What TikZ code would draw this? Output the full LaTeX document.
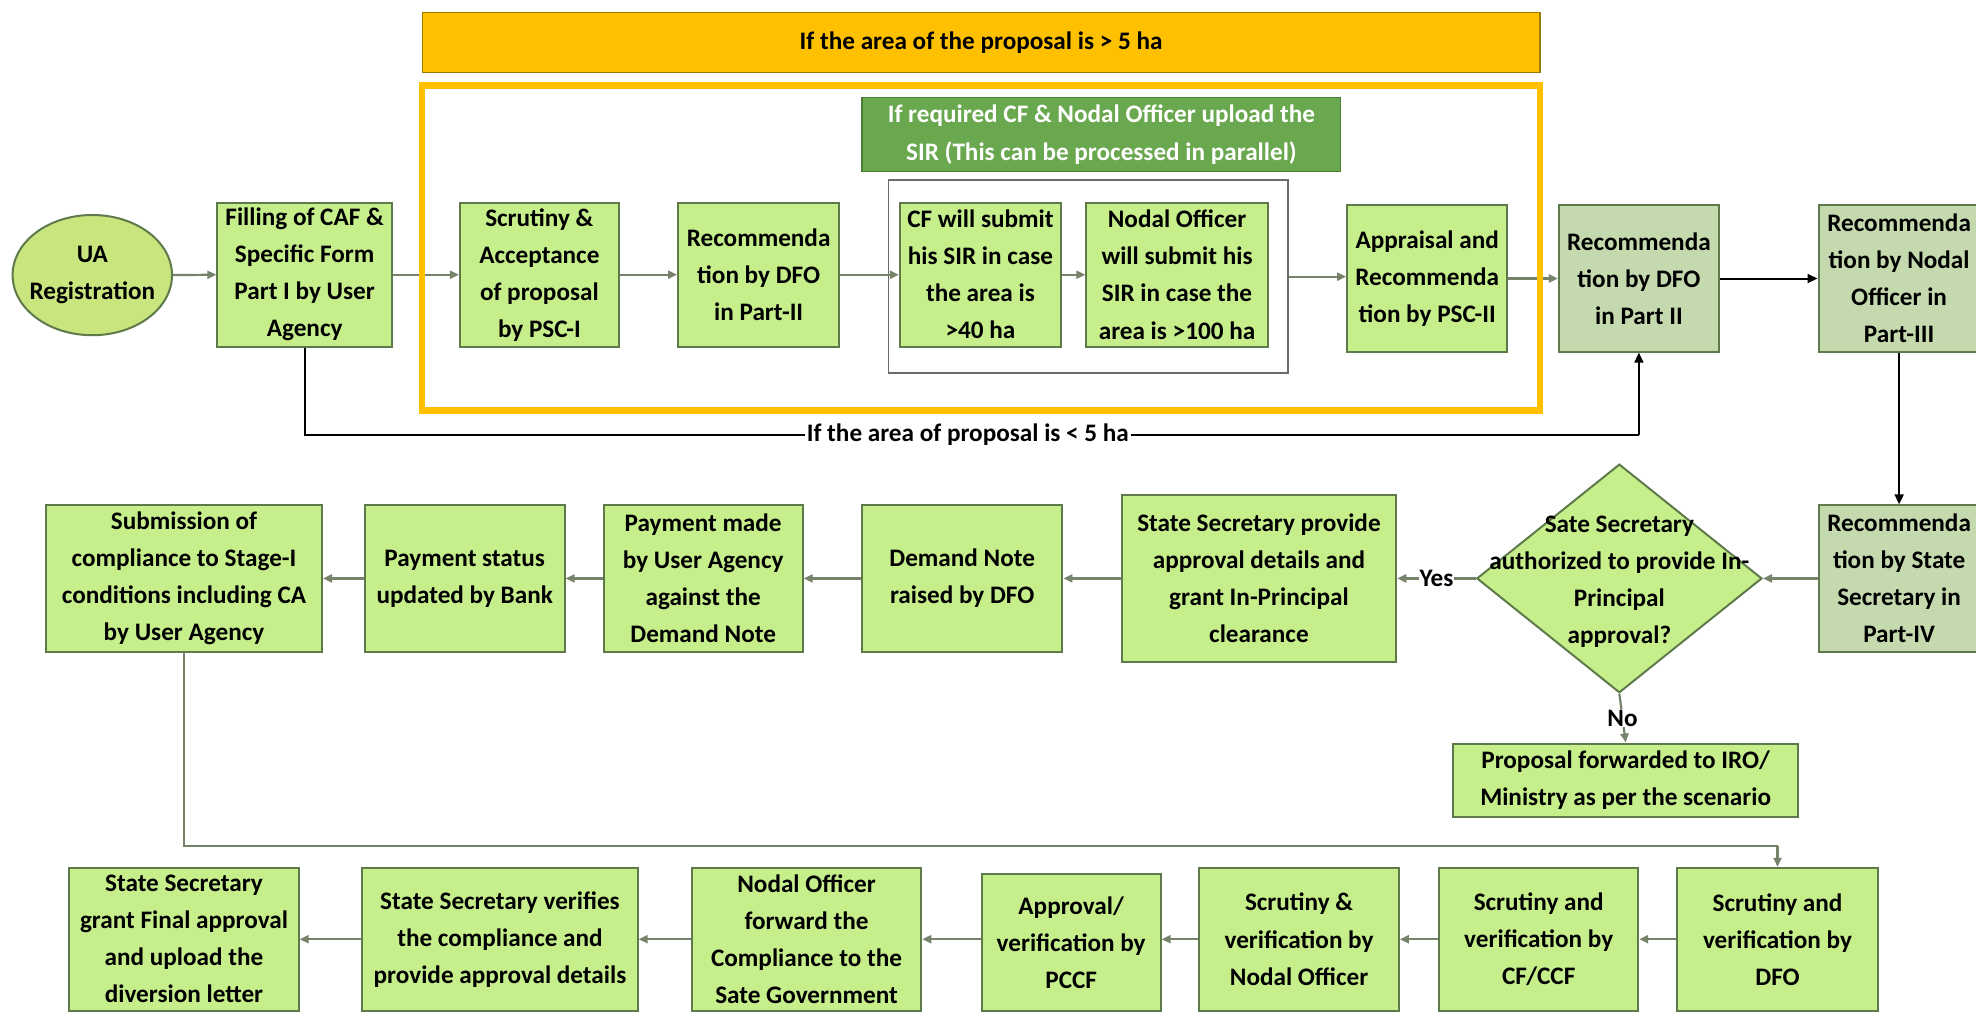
\documentclass[tikz,border=0pt]{standalone}
\usepackage{fontspec}
\setmainfont{Carlito}
\usetikzlibrary{shapes.geometric,arrows.meta}
\definecolor{lgreen}{HTML}{C6EF8C}
\definecolor{dgreenfill}{HTML}{C5D9AF}
\definecolor{bordr}{HTML}{5F7A4A}
\definecolor{ellfill}{HTML}{C9E57D}
\definecolor{orng}{HTML}{FFC000}
\definecolor{orngdark}{HTML}{9C7A00}
\definecolor{sirgreen}{HTML}{6AA84F}
\definecolor{sirborder}{HTML}{4E7D38}
\definecolor{conn}{HTML}{76836B}
\definecolor{framegrey}{HTML}{6B6B6B}
\begin{document}
\begin{tikzpicture}[x=0.63pt,y=-0.63pt,
  txt/.style={font=\fontsize{12.6}{18.5}\selectfont\bfseries, align=center, text=black},
  box/.style={txt, draw=bordr, fill=lgreen, line width=1pt, inner sep=0pt},
  dbox/.style={box, fill=dgreenfill},
  garrow/.style={draw=conn, line width=1.1pt, -{Triangle[length=4.5pt,width=4pt]}},
  barrow/.style={draw=black, line width=1pt, -{Triangle[length=5pt,width=4.5pt]}},
  bline/.style={draw=black, line width=1pt},
  lbl/.style={txt, fill=white, inner sep=1pt},
]
\useasboundingbox (0,0) rectangle (1568,804);
\fill[white] (0,0) rectangle (1568,804);

% banner
\node[txt, draw=orngdark, fill=orng, line width=0.6pt, minimum width=558.8pt, minimum height=30pt, inner sep=0pt] (banner) at (778.5,33.85) {If the area of the proposal is > 5 ha};

% SIR box and grey frame
\node[txt, text=white, draw=sirborder, fill=sirgreen, line width=0.6pt, minimum width=239.4pt, minimum height=36.9pt, inner sep=0pt, font=\fontsize{12.6}{19}\selectfont\bfseries] (sir) at (874,106.75) {If required CF \& Nodal Officer upload the\\SIR (This can be processed in parallel)};
\node[draw=framegrey, line width=0.9pt, minimum width=199.7pt, minimum height=96.4pt, inner sep=0pt] (grp) at (863.5,219.5) {};

% top row
\node[ellipse, draw=bordr, fill=ellfill, line width=1pt, minimum width=79.7pt, minimum height=60.1pt, inner sep=0pt,
  label={[txt]center:{UA\\Registration}}] (ua) at (73.25,218.3) {};
\node[box, minimum width=87.3pt, minimum height=71.8pt] (caf) at (241.75,218) {Filling of CAF \&\\Specific Form\\Part I by User\\Agency};
\node[box, minimum width=79.4pt, minimum height=71.8pt] (psc1) at (428,218) {Scrutiny \&\\Acceptance\\of proposal\\by PSC-I};
\node[box, minimum width=80.6pt, minimum height=71.8pt] (dfo2) at (602,218) {Recommenda\\tion by DFO\\in Part-II};
\node[box, minimum width=80.6pt, minimum height=71.8pt] (cf) at (778,218) {CF will submit\\his SIR in case\\the area is\\>40 ha};
\node[box, minimum width=90.7pt, minimum height=71.8pt] (nosir) at (934,218) {Nodal Officer\\will submit his\\SIR in case the\\area is >100 ha};
\node[box, minimum width=80pt, minimum height=73.1pt] (psc2) at (1132.5,221) {Appraisal and\\Recommenda\\tion by PSC-II};
\node[dbox, minimum width=80pt, minimum height=73.1pt] (dfoII) at (1300.5,221) {Recommenda\\tion by DFO\\in Part II};
\node[dbox, minimum width=80.6pt, minimum height=73.1pt] (nodal3) at (1507,221) {Recommenda\\tion by Nodal\\Officer in\\Part-III};

% middle row
\node[dbox, minimum width=80.6pt, minimum height=73.1pt] (state4) at (1507,459) {Recommenda\\tion by State\\Secretary in\\Part-IV};
\node[diamond, draw=bordr, fill=lgreen, line width=1pt, minimum width=142.6pt, minimum height=114.3pt, inner sep=0pt,
  label={[txt, yshift=-1.5pt]center:{Sate Secretary\\authorized to provide In-\\Principal\\approval?}}] (dia) at (1285,459) {};
\node[box, minimum width=137.3pt, minimum height=83.2pt] (ssprov) at (999,459) {State Secretary provide\\approval details and\\grant In-Principal\\clearance};
\node[box, minimum width=100.2pt, minimum height=73.1pt] (demand) at (763.5,459) {Demand Note\\raised by DFO};
\node[box, minimum width=99.5pt, minimum height=73.1pt] (paymade) at (558,459) {Payment made\\by User Agency\\against the\\Demand Note};
\node[box, minimum width=99.9pt, minimum height=73.1pt] (paystat) at (368.75,459) {Payment status\\updated by Bank};
\node[box, minimum width=138pt, minimum height=73.1pt] (submis) at (146,459) {Submission of\\compliance to Stage-I\\conditions including CA\\by User Agency};
\node[box, minimum width=172.6pt, minimum height=36.5pt] (prop) at (1290,619) {Proposal forwarded to IRO/\\Ministry as per the scenario};

% bottom row
\node[box, minimum width=100.2pt, minimum height=71.4pt] (dfoscr) at (1410.5,745.3) {Scrutiny and\\verification by\\DFO};
\node[box, minimum width=99.5pt, minimum height=71.4pt] (cfccf) at (1221,745.3) {Scrutiny and\\verification by\\CF/CCF};
\node[box, minimum width=99.7pt, minimum height=71.4pt] (scrnod) at (1030.85,745.3) {Scrutiny \&\\verification by\\Nodal Officer};
\node[box, minimum width=89.5pt, minimum height=68.2pt] (pccf) at (850,747.8) {Approval/\\verification by\\PCCF};
\node[box, minimum width=114.7pt, minimum height=71.4pt] (nodfwd) at (640,745.3) {Nodal Officer\\forward the\\Compliance to the\\Sate Government};
\node[box, minimum width=137.7pt, minimum height=71.4pt] (verif) at (396.75,745.3) {State Secretary verifies\\the compliance and\\provide approval details};
\node[box, minimum width=114.7pt, minimum height=71.4pt] (grant) at (146,745.3) {State Secretary\\grant Final approval\\and upload the\\diversion letter};

% connectors top row
\draw[garrow] (ua.east) -- (caf.west);
\draw[garrow] (caf.east) -- (psc1.west);
\draw[garrow] (psc1.east) -- (dfo2.west);
\draw[garrow] (dfo2.east) -- (cf.west);
\draw[garrow] (cf.east) -- (nosir.west);
\draw[garrow] (grp.east) -- (psc2.west |- grp.east);
\draw[garrow] (psc2.east) -- (dfoII.west);
\draw[barrow] (dfoII.east) -- (nodal3.west);
\draw[barrow] (nodal3.south) -- (state4.north);

% orange frame (drawn over the crossing connectors)
\node[draw=orng, line width=3.3pt, minimum width=558.8pt, minimum height=162.5pt, inner sep=0pt] (oframe) at (778.5,197) {};

% < 5 ha bypass
\coordinate (byl) at (241.75,345);
\coordinate (byr) at (1300.5,345);
\draw[bline] (caf.south) -- (byl) -- (byr);
\draw[barrow] (byr) -- (dfoII.south);
\node[lbl] (lt5) at (768,345) {If the area of proposal is < 5 ha};

% middle row connectors
\draw[garrow] (state4.west) -- (dia.east);
\draw[garrow] (dia.west) -- node[lbl, inner sep=0.5pt] (yes) {Yes} (ssprov.east);
\draw[garrow] (dia.south) -- node[lbl, inner sep=0.5pt] (no) {No} (prop.north);
\draw[garrow] (ssprov.west) -- (demand.east);
\draw[garrow] (demand.west) -- (paymade.east);
\draw[garrow] (paymade.west) -- (paystat.east);
\draw[garrow] (paystat.west) -- (submis.east);

% link to bottom row
\coordinate (ll) at (146,671.5);
\coordinate (lr) at (1410.5,671.5);
\draw[draw=conn, line width=1.1pt] (submis.south) -- (ll) -- (lr);
\draw[garrow] (lr) -- (dfoscr.north);

% bottom row connectors
\draw[garrow] (dfoscr.west) -- (cfccf.east);
\draw[garrow] (cfccf.west) -- (scrnod.east);
\draw[garrow] (scrnod.west) -- (pccf.east |- scrnod.west);
\draw[garrow] (pccf.west |- nodfwd.east) -- (nodfwd.east);
\draw[garrow] (nodfwd.west) -- (verif.east);
\draw[garrow] (verif.west) -- (grant.east);
\end{tikzpicture}
\end{document}
